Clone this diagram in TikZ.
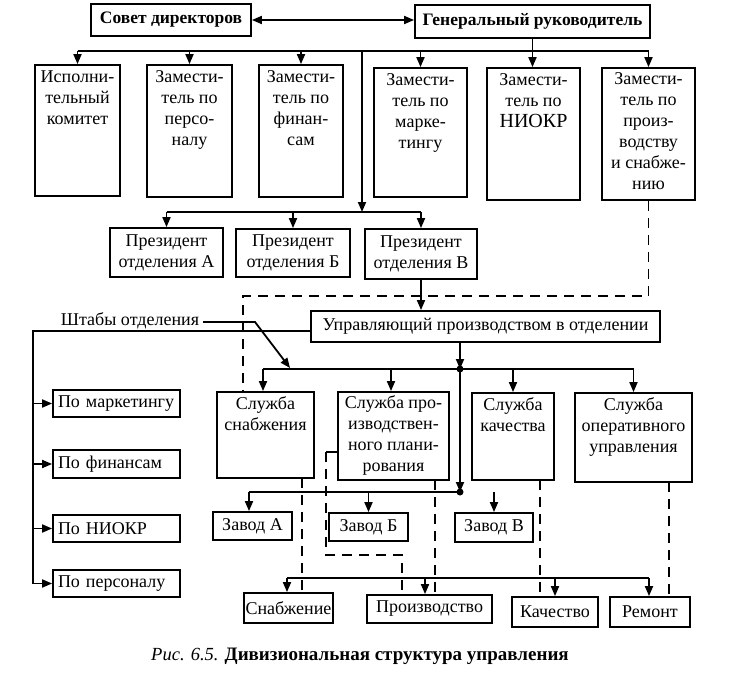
\documentclass[tikz,border=0pt]{standalone}
\usepackage{fontspec}
\setmainfont{Liberation Serif}
\usetikzlibrary{arrows.meta}
\newcommand\fs{\fontsize{18}{21}\selectfont}
\newcommand\fsb{\fontsize{17.5}{21}\selectfont\bfseries}
\tikzset{
  box/.style={draw, line width=1.8pt, inner sep=0pt, font=\fs, align=center},
  ln/.style={line width=1.8pt},
  arr/.style={line width=1.8pt, -{Triangle[length=10pt,width=8pt]}},
  arrs/.style={line width=1.8pt, {Triangle[length=10pt,width=8pt]}-{Triangle[length=10pt,width=8pt]}},
  dsh/.style={line width=1.8pt, dash pattern=on 10pt off 7pt},
  txt/.style={align=center, font=\fs, inner sep=0pt, anchor=north},
  dot/.style={circle, fill, inner sep=0pt, minimum size=7pt},
  pobox/.style={box, minimum width=127pt, text width=117pt, align=left},
}
\begin{document}
\begin{tikzpicture}[x=1pt,y=-1pt]
\useasboundingbox[fill=white] (0,0) rectangle (744,693);

% top
\node[box, font=\fsb, minimum width=160pt, minimum height=32pt] (sovet) at (171,20) {Совет директоров};
\node[box, font=\fsb, minimum width=235pt, minimum height=33pt] (gen) at (532.5,21.5) {Генеральный руководитель};
\draw[arrs] (sovet.east) -- (sovet.east -| gen.west);

% deputies
\node[box, minimum width=85pt, minimum height=131pt] (isp) at (77.5,130.5) {};
\node[txt] (ispt) at ([yshift=-6pt]isp.north) {Исполни-\\тельный\\комитет};
\node[box, minimum width=85pt, minimum height=132pt] (pers) at (189.5,131) {};
\node[txt] (perst) at ([yshift=-6pt]pers.north) {Замести-\\тель по\\персо-\\налу};
\node[box, minimum width=84pt, minimum height=132pt] (fin) at (301,131) {};
\node[txt] (fint) at ([yshift=-6pt]fin.north) {Замести-\\тель по\\финан-\\сам};
\node[box, minimum width=93pt, minimum height=129pt] (mark) at (420.5,132.5) {};
\node[txt] (markt) at ([yshift=-6pt]mark.north) {Замести-\\тель по\\марке-\\тингу};
\node[box, minimum width=93pt, minimum height=132pt] (niokr) at (533.5,134) {};
\node[txt] (niokrt) at ([yshift=-6pt]niokr.north) {Замести-\\тель по\\{\fontsize{20}{21}\selectfont НИОКР}};
\node[box, minimum width=93pt, minimum height=132pt] (proizv) at (648.5,134) {};
\node[txt] (proizvt) at ([yshift=-5pt]proizv.north) {Замести-\\тель по\\произ-\\водству\\и снабже-\\нию};

\coordinate (b1) at (0,51);
\draw[ln] (isp.north |- b1) -- (proizv.north |- b1);
\foreach \n in {isp,pers,fin,mark,proizv} \draw[arr] (\n.north |- b1) -- (\n.north);
\draw[arr] (gen.south) -- (gen.south |- niokr.north);

% presidents
\node[box, minimum width=113pt, minimum height=49pt] (pA) at (166.5,252.5) {Президент\\отделения А};
\node[box, minimum width=114pt, minimum height=48pt] (pB) at (293,253) {Президент\\отделения Б};
\node[box, minimum width=112pt, minimum height=50pt] (pV) at (421,254) {Президент\\отделения В};
\coordinate (j1) at (362,51);
\coordinate (j2) at (362,212);
\draw[arr] (j1) -- (j2);
\draw[ln] (pA.north |- j2) -- (pV.north |- j2);
\foreach \n in {pA,pB,pV} \draw[arr] (\n.north |- j2) -- (\n.north);

% manager
\node[box, minimum width=349pt, minimum height=31pt] (upr) at (485.5,326.5) {Управляющий производством в отделении};
\draw[arr] (pV.south) -- (pV.south |- upr.north);

% staff
\node[font=\fs, inner sep=0pt] (shtab) at (130,321) {Штабы отделения};
\node[pobox, minimum height=27pt] (poM) at (116.5,403.5) {По маркетингу};
\node[pobox, minimum height=28pt] (poF) at (116.5,464) {По финансам};
\node[pobox, minimum height=27pt] (poN) at (116.5,528.5) {По НИОКР};
\node[pobox, minimum height=27pt] (poP) at (116.5,583.5) {По персоналу};
\coordinate (s1) at (311,331);
\coordinate (s2) at (33,331);
\draw[ln] (s1) -- (s2) -- (s2 |- poP.west);
\foreach \n in {poM,poF,poN,poP} \draw[arr] (s2 |- \n.west) -- (\n.west);

% services
\node[box, minimum width=97pt, minimum height=86pt] (snab) at (265.5,435) {};
\node[txt] (snabt) at ([yshift=-5pt]snab.north) {Служба\\снабжения};
\node[box, minimum width=111pt, minimum height=88pt] (plan) at (393.5,436) {};
\node[txt] (plant) at ([yshift=-4pt]plan.north) {Служба про-\\изводствен-\\ного плани-\\рования};
\node[box, minimum width=82pt, minimum height=87pt] (kach) at (513,436.5) {};
\node[txt] (kacht) at ([yshift=-5pt]kach.north) {Служба\\качества};
\node[box, minimum width=117pt, minimum height=89pt] (oper) at (633.5,437.5) {};
\node[txt] (opert) at ([yshift=-5pt]oper.north) {Служба\\оперативного\\управления};

\coordinate (dt1) at (460,369);
\coordinate (b3) at (263,369);
\coordinate (b3p) at (391,369);
\draw[arr] (dt1 |- upr.south) -- (dt1);
\draw[ln] (b3) -- (oper.north |- dt1);
\draw[arr] (b3) -- (b3 |- snab.north);
\draw[arr] (b3p) -- (b3p |- plan.north);
\draw[arr] (kach.north |- dt1) -- (kach.north);
\draw[arr] (oper.north |- dt1) -- (oper.north);
\coordinate (sh1) at (255,322);
\coordinate (sh2) at (290,368);
\draw[arr] ([xshift=4pt]shtab.east |- sh1) -- (sh1) -- (sh2);

% plants
\node[box, minimum width=79pt, minimum height=28pt] (zA) at (252.5,526) {Завод А};
\node[box, minimum width=79pt, minimum height=28pt] (zB) at (368.5,527) {Завод Б};
\node[box, minimum width=78pt, minimum height=29pt] (zV) at (494,527.5) {Завод В};
\coordinate (dt2) at (460,492);
\coordinate (b5) at (249,492);
\draw[arr] (dt1) -- (dt2);
\draw[ln] (b5) -- (dt2);
\draw[arr] (b5) -- (b5 |- zA.north);
\draw[arr] (zB.north |- dt2) -- (zB.north);
\draw[arr] (zV.north |- dt2) -- (zV.north);
\node[dot] (dot1) at (dt1) {};
\node[dot] (dot2) at (dt2) {};

% bottom
\node[box, minimum width=89pt, minimum height=30pt] (snabzh) at (288.5,608) {Снабжение};
\node[box, minimum width=125pt, minimum height=28pt] (prod) at (429.5,609) {Производство};
\node[box, minimum width=86pt, minimum height=30pt] (qual) at (555,612) {Качество};
\node[box, minimum width=80pt, minimum height=30pt] (rem) at (650,612) {Ремонт};
\coordinate (b4) at (287,578);
\coordinate (b4p) at (425,578);
\coordinate (b4r) at (649,578);
\draw[ln] (b4) -- (b4r);
\draw[arr] (b4) -- (b4 |- snabzh.north);
\draw[arr] (b4p) -- (b4p |- prod.north);
\draw[arr] (qual.north |- b4) -- (qual.north);
\draw[arr] (b4r) -- (b4r |- rem.north);

% dashed links
\coordinate (d1) at (243,296);
\draw[dsh] (proizv.south) |- (d1) -- (d1 |- snab.north);
\coordinate (d2) at (302,478);
\draw[dsh] (d2) -- (d2 |- snabzh.north);
\coordinate (p1) at (326,452);
\coordinate (p2) at (326,555);
\coordinate (p3) at (402,555);
\draw[ln] (plan.west |- p1) -- (p1);
\draw[dsh] (p1) -- (p2) -- (p3) -- (p3 |- prod.north);
\coordinate (d3) at (435,480);
\draw[dsh] (d3) -- (d3 |- prod.north);
\coordinate (d4) at (540,480);
\draw[dsh] (d4) -- (d4 |- qual.north);
\coordinate (d5) at (669,482);
\draw[dsh] (d5) -- (d5 |- rem.north);

% caption
\node[inner sep=0pt] (cap) at (360,656) {\fontsize{18.5}{20}\selectfont\textit{Рис. 6.5.} \fontsize{19}{20}\selectfont\textbf{Дивизиональная структура управления}};
\end{tikzpicture}
\end{document}
